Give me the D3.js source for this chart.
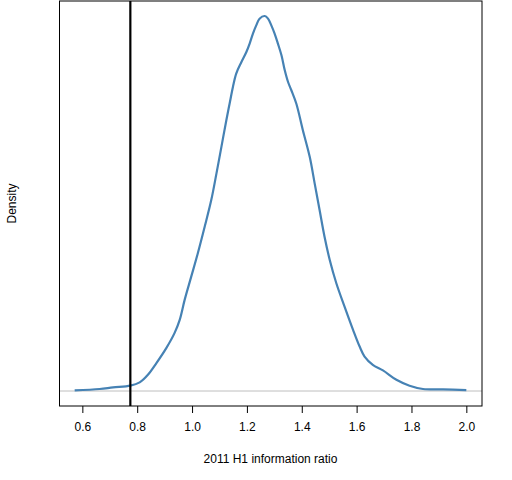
<!DOCTYPE html>
<html>
<head>
<meta charset="utf-8">
<script src="https://cdn.jsdelivr.net/npm/d3@7"></script>
<style>
  body { margin: 0; background: #fff; }
  svg { display: block; font-family: "Liberation Sans", Arial, sans-serif; }
</style>
</head>
<body>
<div id="chart"></div>
<script>
// information ratio values (x) and kernel density estimate (y)
const ratioValues = [0.572, 0.663, 0.712, 0.775, 0.809, 0.839, 0.870, 0.906, 0.936, 0.955,
  0.973, 0.997, 1.021, 1.046, 1.070, 1.089, 1.107, 1.125, 1.137, 1.149, 1.161, 1.180,
  1.198, 1.210, 1.222, 1.234, 1.246, 1.265, 1.277, 1.289, 1.301, 1.313, 1.326, 1.338,
  1.350, 1.362, 1.380, 1.404, 1.429, 1.447, 1.465, 1.483, 1.502, 1.526, 1.556, 1.587,
  1.611, 1.629, 1.659, 1.696, 1.745, 1.793, 1.842, 1.915, 2.000];
const densityValues = [0.004, 0.013, 0.023, 0.034, 0.055, 0.104, 0.179, 0.275, 0.371, 0.456,
  0.584, 0.733, 0.883, 1.053, 1.224, 1.395, 1.565, 1.736, 1.843, 1.949, 2.035, 2.109,
  2.173, 2.227, 2.291, 2.344, 2.387, 2.404, 2.387, 2.344, 2.291, 2.227, 2.152, 2.056,
  1.981, 1.928, 1.843, 1.672, 1.501, 1.331, 1.160, 0.989, 0.840, 0.691, 0.541, 0.392,
  0.285, 0.221, 0.168, 0.132, 0.072, 0.034, 0.013, 0.010, 0.006];
const xTicks = [0.6, 0.8, 1.0, 1.2, 1.4, 1.6, 1.8, 2.0];
const realizedRatio = 0.775;

const width = 512, height = 480;
const margin = { top: 1, right: 30, bottom: 74, left: 59 };

const svg = d3.select("#chart").append("svg")
    .attr("width", width)
    .attr("height", height);

// R-style 4% padding on both axes
const xMin = d3.min(ratioValues), xMax = d3.max(ratioValues);
const xPad = (xMax - xMin) * 0.04;
const x = d3.scaleLinear()
    .domain([xMin - xPad, xMax + xPad])
    .range([margin.left, width - margin.right]);

const yMax = d3.max(densityValues);
const y = d3.scaleLinear()
    .domain([-yMax * 0.04, yMax * 1.04])
    .range([height - margin.bottom, margin.top]);

const points = ratioValues.map((v, i) => [v, densityValues[i]]);

// zero line
svg.append("line")
    .attr("x1", margin.left).attr("x2", width - margin.right)
    .attr("y1", y(0)).attr("y2", y(0))
    .attr("stroke", "#bebebe")
    .attr("stroke-width", 1);

const line = d3.line()
    .x(d => x(d[0]))
    .y(d => y(d[1]))
    .curve(d3.curveCatmullRom.alpha(0.5));

svg.append("path")
    .datum(points)
    .attr("fill", "none")
    .attr("stroke", "steelblue")
    .attr("stroke-width", 2.2)
    .attr("d", line);

svg.append("line")
    .attr("x1", x(realizedRatio)).attr("x2", x(realizedRatio))
    .attr("y1", margin.top).attr("y2", height - margin.bottom)
    .attr("stroke", "#000")
    .attr("stroke-width", 2.2);

// box
svg.append("rect")
    .attr("x", margin.left + 0.5)
    .attr("y", margin.top)
    .attr("width", width - margin.right - margin.left - 0.5)
    .attr("height", height - margin.bottom - margin.top)
    .attr("fill", "none")
    .attr("stroke", "#000")
    .attr("stroke-width", 1);

const xAxis = svg.append("g")
    .attr("transform", `translate(0,${height - margin.bottom})`)
    .call(d3.axisBottom(x).tickValues(xTicks).tickFormat(d3.format(".1f")).tickSize(7).tickPadding(9));
xAxis.select(".domain").remove();
xAxis.selectAll("line").attr("stroke", "#000");
xAxis.selectAll("text")
    .attr("fill", "#000")
    .style("font-size", "12px")
    .style("font-family", "'Liberation Sans', Arial, sans-serif");

svg.append("text")
    .attr("x", (margin.left + width - margin.right) / 2)
    .attr("y", 463)
    .attr("text-anchor", "middle")
    .attr("font-size", 12)
    .text("2011 H1 information ratio");

svg.append("text")
    .attr("transform", `translate(16,${(margin.top + height - margin.bottom) / 2}) rotate(-90)`)
    .attr("text-anchor", "middle")
    .attr("font-size", 12)
    .text("Density");
</script>
</body>
</html>
